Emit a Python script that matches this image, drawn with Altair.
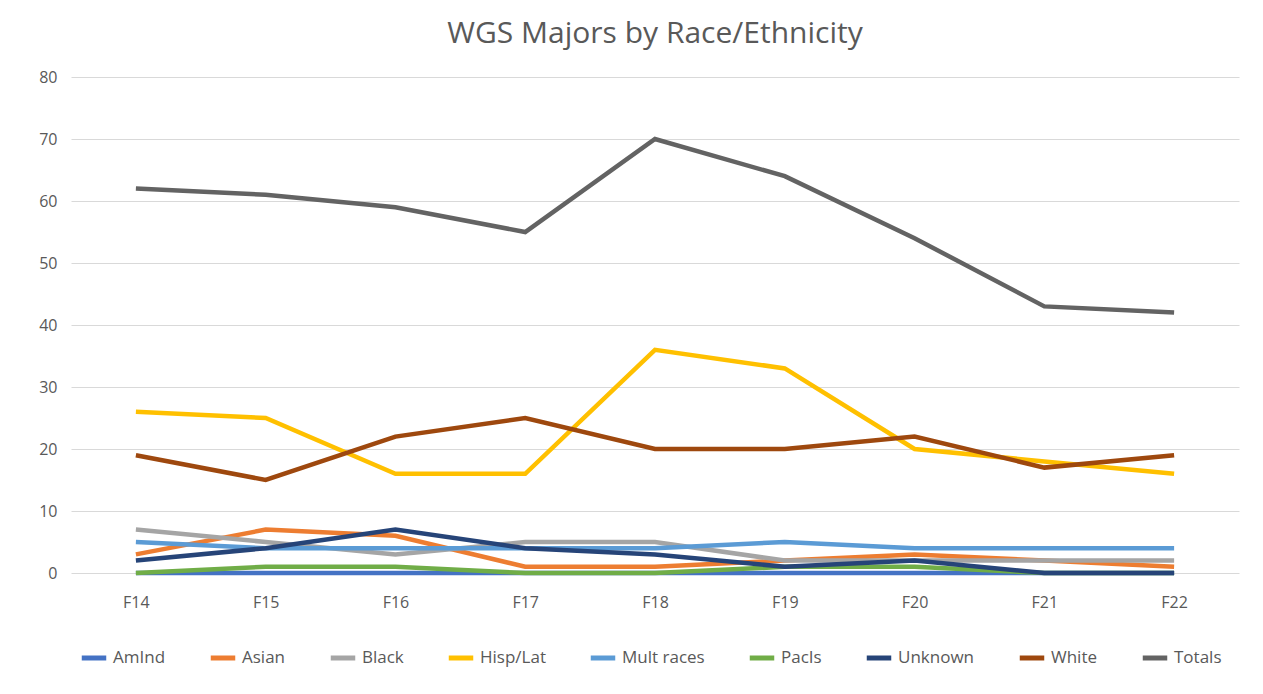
import altair as alt
import pandas as pd

terms = ["F14", "F15", "F16", "F17", "F18", "F19", "F20", "F21", "F22"]
series_names = ["AmInd", "Asian", "Black", "Hisp/Lat", "Mult races", "PacIs", "Unknown", "White", "Totals"]
amind = [0, 0, 0, 0, 0, 0, 0, 0, 0]
asian = [3, 7, 6, 1, 1, 2, 3, 2, 1]
black = [7, 5, 3, 5, 5, 2, 2, 2, 2]
hisp = [26, 25, 16, 16, 36, 33, 20, 18, 16]
mult = [5, 4, 4, 4, 4, 5, 4, 4, 4]
pacis = [0, 1, 1, 0, 0, 1, 1, 0, 0]
unknown = [2, 4, 7, 4, 3, 1, 2, 0, 0]
white = [19, 15, 22, 25, 20, 20, 22, 17, 19]
totals = [62, 61, 59, 55, 70, 64, 54, 43, 42]
colors = ["#4472C4", "#ED7D31", "#A5A5A5", "#FFC000", "#5B9BD5", "#70AD47", "#264478", "#9E480E", "#636363"]

values = [amind, asian, black, hisp, mult, pacis, unknown, white, totals]
rows = []
for name, vals in zip(series_names, values):
    for t, v in zip(terms, vals):
        rows.append({"Term": t, "Series": name, "Count": v})
df = pd.DataFrame(rows)

font = "Open Sans"
chart = alt.Chart(df).mark_line(strokeWidth=4.5, strokeJoin="miter").encode(
    x=alt.X("Term:N", sort=terms, title=None,
            scale=alt.Scale(paddingOuter=0.5),
            axis=alt.Axis(labelAngle=0, grid=False, domain=False, ticks=False,
                          labelPadding=21, labelFontSize=16, labelColor="#595959", labelFont=font)),
    y=alt.Y("Count:Q", title=None,
            scale=alt.Scale(domain=[0, 80]),
            axis=alt.Axis(values=[0, 10, 20, 30, 40, 50, 60, 70, 80], domain=False, ticks=False,
                          gridColor="#d9d9d9", gridWidth=1.2, labelPadding=14,
                          labelFontSize=16, labelColor="#595959", labelFont=font)),
    color=alt.Color("Series:N", sort=series_names,
                    scale=alt.Scale(domain=series_names, range=colors),
                    legend=alt.Legend(orient="none", legendX=8, legendY=566,
                                      direction="horizontal", columns=9, title=None,
                                      symbolType="stroke", symbolStrokeWidth=5, symbolSize=600,
                                      labelFontSize=17, labelColor="#595959", labelFont=font,
                                      columnPadding=34, labelLimit=200)),
    order=alt.Order("Term:N"),
).properties(
    width=1168, height=496,
    title=alt.TitleParams("WGS Majors by Race/Ethnicity", fontSize=30, font=font,
                          fontWeight="normal", color="#595959", offset=20),
    padding={"left": 30, "top": 11, "right": 10, "bottom": 5},
).configure_view(stroke=None)

chart.save("out.html", embed_options={"renderer": "svg", "actions": False})
